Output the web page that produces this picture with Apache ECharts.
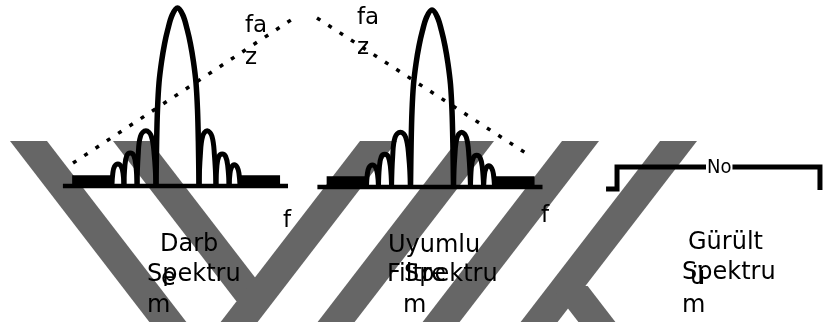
<!DOCTYPE html>
<html>
<head>
<meta charset="utf-8">
<script src="https://cdn.jsdelivr.net/npm/echarts@6/dist/echarts.min.js"></script>
<style>
  html, body { margin: 0; background: #ffffff; }
  #chart { width: 824px; height: 322px; }
</style>
</head>
<body>
<div id="chart"></div>
<script>
// sinc-like spectrum: x in main-lobe half widths, y relative to the main peak
const mainLobe = [[-1.0, 0], [-0.97, 0.25], [-0.93, 0.43], [-0.86, 0.58], [-0.74, 0.7], [-0.6, 0.8], [-0.45, 0.88], [-0.25, 0.96], [0, 1],
  [0.25, 0.96], [0.45, 0.88], [0.6, 0.8], [0.74, 0.7], [0.86, 0.58], [0.93, 0.43], [0.97, 0.25], [1.0, 0]];
const sideLobes = [
  [[-1.88, 0], [-1.83, 0.17], [-1.72, 0.28], [-1.47, 0.31], [-1.22, 0.28], [-1.08, 0.17], [-1.0, 0]],
  [[-2.49, 0], [-2.45, 0.11], [-2.36, 0.17], [-2.2, 0.185], [-2.03, 0.17], [-1.93, 0.11], [-1.88, 0]],
  [[-3.05, 0], [-3.01, 0.07], [-2.93, 0.11], [-2.77, 0.124], [-2.62, 0.11], [-2.53, 0.07], [-2.49, 0]],
  [[1.0, 0], [1.06, 0.17], [1.17, 0.28], [1.38, 0.31], [1.6, 0.28], [1.72, 0.17], [1.79, 0]],
  [[1.79, 0], [1.83, 0.11], [1.92, 0.165], [2.08, 0.18], [2.24, 0.165], [2.34, 0.11], [2.4, 0]],
  [[2.4, 0], [2.44, 0.07], [2.51, 0.105], [2.64, 0.12], [2.78, 0.105], [2.86, 0.07], [2.91, 0]]
];
const rippleBands = [[[-4.9, 0.03], [-3.05, 0.03]], [[2.91, 0.03], [4.77, 0.03]]];
const baseLine = [[-5.33, 0], [5.14, 0]];
const phasePulse = [[-4.86, 0.129], [5.56, 0.955]];
const phaseFilter = [[-5.35, 0.955], [4.65, 0.169]];
const noiseLevel = [[0.27, 0], [0.76, 0], [0.76, 1], [9.82, 1], [9.82, -0.05]];

// background bands: top-left x at y=141, direction (1 = "\", -1 = "/"), y start, y end
const stripes = [[10, 1, 141, 330], [113, 1, 141, 301], [360, -1, 141, 330], [457, -1, 141, 330],
  [562, -1, 141, 330], [660, -1, 141, 330], [439, 1, 286, 330]];

const FONT = '"DejaVu Sans", sans-serif';
// [text, left x, baseline y, font size]
const labelLayout = [
  ['fa', 245, 33, 23], ['z', 245, 65, 23], ['fa', 357, 25, 23], ['z', 357, 55, 23],
  ['f', 283, 228, 23], ['f', 541, 223, 23],
  ['Darb', 160, 252, 24], ['Spektru', 147, 282, 24], ['e', 161, 286, 24], ['m', 147, 313, 24],
  ['Uyumlu', 388, 253, 24], ['Filtre', 387, 282, 24], ['Spektru', 404, 282, 24], ['m', 403, 313, 24],
  ['Gürült', 688, 250, 24], ['Spektru', 682, 280, 24], ['ü', 690, 285, 24], ['m', 682, 313, 24]
];

const chart = echarts.init(document.getElementById('chart'), null, { renderer: 'canvas' });

const hiddenAxis = (idx, min, max, inverse) => ({
  type: 'value', gridIndex: idx, min, max, inverse: !!inverse, show: false
});

function spectrumSeries(axisIdx) {
  const list = [];
  const line = (data, width, extra) => Object.assign({
    type: 'line', xAxisIndex: axisIdx, yAxisIndex: axisIdx, data, symbol: 'none',
    clip: false, silent: true, z: 5,
    lineStyle: { color: '#000', width, cap: 'butt', join: 'round' }
  }, extra || {});
  list.push(line(baseLine, 4.5));
  rippleBands.forEach((b) => list.push(line(b, 11)));
  list.push(line(mainLobe, 5.5, { smooth: 0.35 }));
  sideLobes.forEach((l) => list.push(line(l, 5, { smooth: 0.4 })));
  return list;
}

const dotted = (axisIdx, data) => ({
  type: 'line', xAxisIndex: axisIdx, yAxisIndex: axisIdx, data, symbol: 'none', clip: false, silent: true, z: 4,
  lineStyle: { color: '#000', width: 3.5, type: [4, 9.5], cap: 'butt' }
});

const option = {
  animation: false,
  backgroundColor: '#ffffff',
  grid: [
    { left: 0, top: 0, width: 824, height: 322 },
    { left: 48.5, top: 8, width: 258, height: 178 },
    { left: 303, top: 10, width: 258, height: 177 },
    { left: 600, top: 167, width: 224, height: 22 }
  ],
  xAxis: [hiddenAxis(0, 0, 824), hiddenAxis(1, -6, 6), hiddenAxis(2, -6, 6), hiddenAxis(3, 0, 10)],
  yAxis: [hiddenAxis(0, 0, 322, true), hiddenAxis(1, 0, 1), hiddenAxis(2, 0, 1), hiddenAxis(3, 0, 1)],
  series: [
    {
      type: 'custom', xAxisIndex: 0, yAxisIndex: 0, data: stripes, silent: true, z: 1,
      renderItem(params, api) {
        const x0 = api.value(0), dir = api.value(1), y0 = api.value(2), y1 = api.value(3);
        const slope = 0.77, w = 37, top = 141;
        const a = (y0 - top) * slope * dir, b = (y1 - top) * slope * dir;
        const pts = [[x0 + a, y0], [x0 + w + a, y0], [x0 + w + b, y1], [x0 + b, y1]].map((p) => api.coord(p));
        return { type: 'polygon', shape: { points: pts }, style: { fill: '#666666' } };
      }
    },
    ...spectrumSeries(1),
    ...spectrumSeries(2),
    dotted(1, phasePulse),
    dotted(2, phaseFilter),
    {
      type: 'line', xAxisIndex: 3, yAxisIndex: 3, data: noiseLevel, symbol: 'none', clip: false, silent: true, z: 5,
      lineStyle: { color: '#000', width: 5, cap: 'butt', join: 'miter' }
    }
  ],
  graphic: [
    ...labelLayout.map(([text, x, y, size]) => ({
      type: 'text', x, y: y - size * 0.3, z: 100, silent: true,
      style: { text, font: size + 'px ' + FONT, fill: '#000', verticalAlign: 'middle' }
    })),
    {
      type: 'text', x: 706, y: 168, z: 100, silent: true,
      style: { text: 'No', font: '20px "DejaVu Sans Condensed", "DejaVu Sans", sans-serif', fill: '#000',
        verticalAlign: 'middle', backgroundColor: '#fff', padding: [0, 1] }
    }
  ]
};

chart.setOption(option);
</script>
</body>
</html>
